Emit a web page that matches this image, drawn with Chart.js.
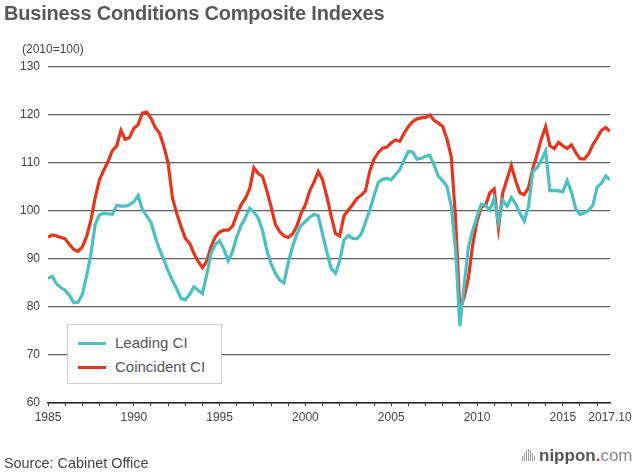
<!DOCTYPE html>
<html>
<head>
<meta charset="utf-8">
<script src="https://cdn.jsdelivr.net/npm/chart.js@4/dist/chart.umd.min.js"></script>
<style>
  html, body { margin: 0; padding: 0; background: #fff; }
  #wrap { position: relative; width: 640px; height: 472px; overflow: hidden; font-family: "Liberation Sans", Arial, Helvetica, sans-serif; }
  #chart { position: absolute; left: 0; top: 0; }
  .title { position: absolute; left: 4px; top: 3px; font-size: 20px; line-height: 20px; font-weight: bold; color: #585858; letter-spacing: -0.2px; white-space: nowrap; }
  .unit { position: absolute; left: 22px; top: 42px; font-size: 12px; line-height: 14px; color: #444; }
  .source { position: absolute; left: 4px; top: 455px; font-size: 14.4px; line-height: 17px; color: #444; }
  .legend { position: absolute; left: 67px; top: 324px; width: 153px; height: 58px; border: 1px solid #cfcfcf; background: #fff; }
  .legend .row { position: absolute; left: 0; height: 18px; line-height: 18px; font-size: 15px; color: #555; white-space: nowrap; }
  .legend .swatch { position: absolute; left: 10px; top: 7.5px; width: 28px; height: 3px; }
  .legend .lbl { position: absolute; left: 47px; top: 0; }
  .logo { position: absolute; left: 521px; top: 446px; height: 20px; font-size: 17px; line-height: 20px; white-space: nowrap; }
  .logo .bars { display: inline-block; position: relative; width: 16px; height: 12px; margin-right: 2px; }
  .logo .bars i { position: absolute; bottom: 0; width: 1px; background: #9a9a9a; }
  .logo b { color: #555; }
  .logo .dot { color: #e5351d; font-weight: bold; }
  .logo .com { color: #8a8a8a; }
</style>
</head>
<body>
<div id="wrap">
  <canvas id="chart" width="640" height="472"></canvas>
  <div class="title">Business Conditions Composite Indexes</div>
  <div class="unit">(2010=100)</div>
  <div class="legend" id="legend"></div>
  <div class="source">Source: Cabinet Office</div>
  <div class="logo"><span class="bars"><i style="left:1px;height:5px"></i><i style="left:3px;height:8px"></i><i style="left:5px;height:11px"></i><i style="left:7px;height:12px"></i><i style="left:9px;height:11px"></i><i style="left:11px;height:8px"></i><i style="left:13px;height:5px"></i></span><b>nippon</b><span class="dot">.</span><span class="com">com</span></div>
</div>
<script>
// quarterly readings, Jan 1985 .. Oct 2017
const quarters = [];
for (let y = 1985; y <= 2017.75; y += 0.25) quarters.push(y);

const yTicks = [60, 70, 80, 90, 100, 110, 120, 130];
const yearTicks = [];
for (let y = 1985; y <= 2017; y++) yearTicks.push(y);
const lastTick = 2017.75;
const lastLabel = '2017.10';

const leading = [
  86.0, 86.4, 84.8, 84.0,
  83.5, 82.4, 80.9, 81.0,
  82.6, 86.5, 91.0, 97.2,
  99.2, 99.5, 99.4, 99.3,
  101.2, 101.0, 101.0, 101.3,
  101.9, 103.2, 100.3, 99.0,
  97.6, 94.6, 92.0, 89.8,
  87.5, 85.5, 83.8, 81.8,
  81.5, 82.6, 84.2, 83.5,
  82.8, 86.7, 91.2, 93.0,
  93.8, 92.0, 89.6, 91.5,
  94.6, 97.0, 98.6, 100.6,
  99.8, 98.5, 96.0, 91.8,
  89.0, 87.0, 85.6, 85.0,
  89.2, 92.6, 95.2, 97.0,
  97.8, 98.7, 99.3, 99.0,
  95.2, 91.5, 88.0, 87.0,
  89.6, 94.0, 94.9, 94.3,
  94.2, 95.2, 97.6, 100.2,
  103.2, 106.0, 106.6, 106.8,
  106.5, 107.6, 108.6, 110.6,
  112.4, 112.3, 110.8, 111.0,
  111.4, 111.6, 109.5, 107.2,
  106.3, 105.1, 101.0, 91.9,
  76.0, 84.5, 92.5, 96.0,
  98.8, 101.4, 101.1, 100.2,
  102.6, 97.6, 102.2, 101.0,
  102.8, 101.5, 99.5, 97.9,
  100.9, 108.2, 109.0, 110.6,
  112.5, 104.2, 104.3, 104.2,
  104.0, 106.3, 104.0, 100.5,
  99.3, 99.6, 100.1, 101.2,
  105.0, 105.8, 107.3, 106.5
];

const coincident = [
  94.6, 95.0, 94.8, 94.5,
  94.2, 93.0, 92.0, 91.6,
  92.5, 94.7, 98.1, 102.8,
  106.5, 108.5, 110.3, 112.6,
  113.5, 116.8, 114.9, 115.3,
  117.2, 118.0, 120.4, 120.6,
  119.3, 117.4, 116.2, 113.5,
  110.0, 102.8, 99.5, 96.8,
  94.3, 93.3, 91.2, 89.5,
  88.2, 89.5, 92.6, 94.6,
  95.6, 96.0, 96.0, 96.8,
  99.2, 101.3, 102.6, 104.6,
  109.0, 107.8, 107.2, 104.3,
  100.9, 97.2, 95.7, 94.8,
  94.5, 95.2, 96.8, 99.5,
  101.3, 104.2, 106.0, 108.2,
  106.5, 103.0, 99.0, 95.3,
  94.8, 99.0, 100.2, 101.3,
  102.6, 103.3, 104.2, 108.3,
  110.8, 112.2, 113.1, 113.3,
  114.2, 114.8, 114.5, 116.2,
  117.6, 118.6, 119.2, 119.4,
  119.5, 120.0, 118.9, 118.3,
  117.6, 115.0, 111.3, 98.5,
  79.5, 82.0, 86.0, 93.0,
  97.8, 100.8, 101.2, 103.8,
  104.6, 96.5, 103.8, 106.6,
  109.5, 106.3, 103.8, 103.4,
  104.8, 108.8, 111.8, 115.0,
  117.6, 113.6, 113.0, 114.3,
  113.6, 113.0, 113.8, 112.2,
  110.9, 110.8, 111.9, 113.8,
  115.2, 116.8, 117.4, 116.6
];

const toPoints = vals => quarters.map((x, i) => ({ x, y: vals[i] }));

const chart = new Chart(document.getElementById('chart'), {
  type: 'line',
  data: {
    datasets: [
      { label: 'Leading CI', data: toPoints(leading), borderColor: '#4bbfc1', borderWidth: 3.2, pointRadius: 0, tension: 0 },
      { label: 'Coincident CI', data: toPoints(coincident), borderColor: '#e5351d', borderWidth: 3.2, pointRadius: 0, tension: 0 }
    ]
  },
  options: {
    responsive: false,
    animation: false,
    layout: { padding: { top: 67, right: 30, bottom: 39, left: 0 } },
    plugins: { legend: { display: false }, tooltip: { enabled: false } },
    scales: {
      x: {
        type: 'linear',
        min: 1985,
        max: lastTick,
        afterBuildTicks: s => { s.ticks = yearTicks.concat([lastTick]).map(v => ({ value: v })); },
        afterFit: s => { s.height = 30; },
        ticks: {
          autoSkip: false,
          maxRotation: 0,
          padding: 4,
          color: '#444',
          font: { family: '"Liberation Sans", Arial, sans-serif', size: 12 },
          callback: v => v === lastTick ? lastLabel : (v % 5 === 0 ? String(v) : '')
        },
        grid: {
          drawOnChartArea: false,
          drawTicks: true,
          tickLength: 3,
          tickColor: c => c.tick && c.tick.value === lastTick ? 'rgba(0,0,0,0)' : '#333'
        },
        border: { display: true, color: '#222', width: 1.5 }
      },
      y: {
        min: 60,
        max: 130,
        afterBuildTicks: s => { s.ticks = yTicks.map(v => ({ value: v })); },
        afterFit: s => { s.width = 48; },
        ticks: {
          padding: 8,
          color: '#444',
          font: { family: '"Liberation Sans", Arial, sans-serif', size: 12 }
        },
        grid: { color: '#5e5e5e', lineWidth: 1.2, drawTicks: false },
        border: { display: false }
      }
    }
  }
});

// legend box built from the datasets
const legendEl = document.getElementById('legend');
chart.data.datasets.forEach((ds, i) => {
  const row = document.createElement('div');
  row.className = 'row';
  row.style.top = (9 + i * 24) + 'px';
  row.innerHTML = '<span class="swatch" style="background:' + ds.borderColor + '"></span><span class="lbl">' + ds.label + '</span>';
  legendEl.appendChild(row);
});
</script>
</body>
</html>
